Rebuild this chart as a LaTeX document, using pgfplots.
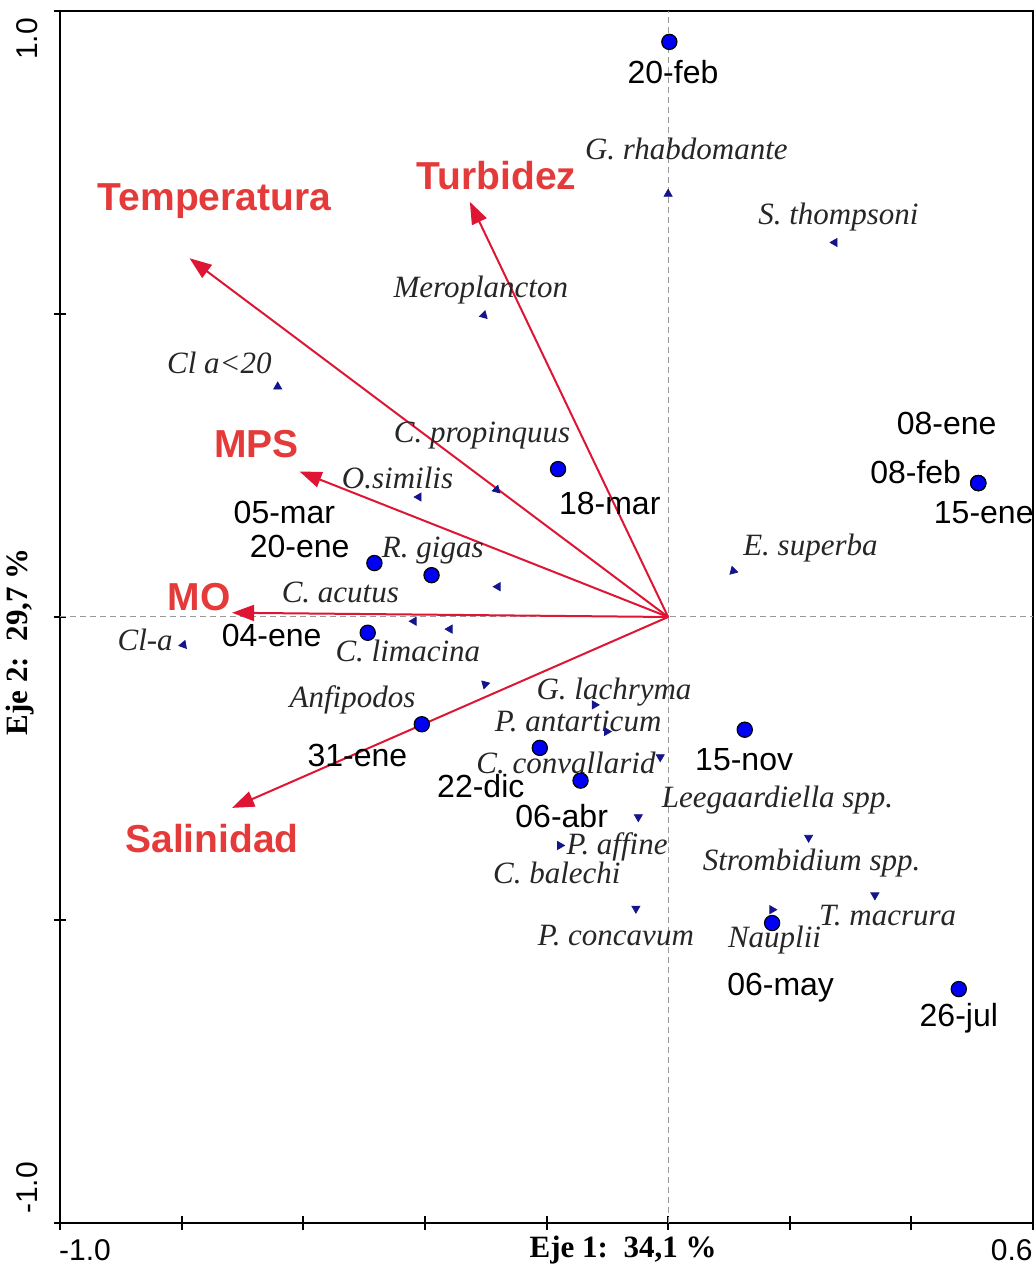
\documentclass[border=0pt]{standalone}
\usepackage{pgfplots}
\pgfplotsset{compat=1.18}
\usetikzlibrary{arrows.meta}
\usepackage{fontspec}
\setmainfont{Liberation Sans}
\newfontfamily\timesfont{Liberation Serif}
\definecolor{arrred}{RGB}{222,22,52}
\definecolor{txtred}{RGB}{228,58,58}
\definecolor{navyb}{RGB}{20,20,140}
\definecolor{dotblue}{RGB}{0,0,245}

\newcommand{\samp}[3]{\node[font=\fontsize{16}{19}\selectfont, inner sep=0pt, anchor=center] at (axis cs:#1,#2) {#3};}
\newcommand{\spl}[3]{\node[font=\timesfont\itshape\fontsize{15.5}{18}\selectfont, text=black!85, inner sep=0pt, anchor=center] at (axis cs:#1,#2) {#3};}
\newcommand{\envl}[3]{\node[font=\bfseries\fontsize{19.5}{22}\selectfont, text=txtred, inner sep=0pt, anchor=center] at (axis cs:#1,#2) {#3};}
\newcommand{\envarrow}[2]{\addplot[arrred, line width=1pt, -{Triangle[length=11pt,width=8pt]}] coordinates {(0,0) (#1,#2)};}
\newcommand{\tri}[3]{\addplot[only marks, mark=triangle*, mark size=2.3pt, color=navyb, mark options={rotate=#3}] coordinates {(#1,#2)};}

\begin{document}
\begin{tikzpicture}
\begin{axis}[
  scale only axis,
  width=486.5pt, height=606pt,
  xmin=-1, xmax=0.6, ymin=-1, ymax=1,
  clip=false,
  axis line style={line width=1pt, black},
  xtick={-1,-0.8,-0.6,-0.4,-0.2,0,0.2,0.4,0.6},
  ytick={-1,-0.5,0,0.5,1},
  xticklabels={}, yticklabels={},
  xtick pos=bottom, ytick pos=left,
  tick align=center,
  major tick length=6.5pt,
  tick style={line width=1pt, black},
]
% zero lines
\addplot[gray!80, line width=0.5pt, dash pattern=on 3pt off 2pt] coordinates {(-1,0) (0.6,0)};
\addplot[gray!80, line width=0.5pt, dash pattern=on 3pt off 2pt] coordinates {(0,-1) (0,1)};

% environmental arrows
\envarrow{-0.326}{0.685}
\envarrow{-0.787}{0.592}
\envarrow{-0.606}{0.240}
\envarrow{-0.717}{0.007}
\envarrow{-0.717}{-0.315}

% samples
\addplot[only marks, mark=*, mark size=3.8pt, mark options={fill=dotblue, draw=black, line width=0.6pt}] coordinates {
(0.002,0.949) (-0.181,0.244) (0.510,0.221) (0.510,0.221) (0.510,0.221)
(-0.483,0.089) (-0.389,0.069) (-0.494,-0.026) (-0.405,-0.177)
(-0.211,-0.216) (-0.144,-0.270) (0.126,-0.186) (0.171,-0.505) (0.478,-0.614)
};

% species
\tri{0.000}{0.698}{0}
\tri{0.274}{0.618}{90}
\tri{-0.303}{0.498}{-135}
\tri{-0.642}{0.380}{-120}
\tri{-0.410}{0.198}{-150}
\tri{-0.282}{0.210}{-135}
\tri{-0.280}{0.050}{90}
\tri{-0.418}{-0.007}{90}
\tri{-0.359}{-0.020}{90}
\tri{-0.797}{-0.046}{100}
\tri{-0.301}{-0.111}{45}
\tri{-0.121}{-0.145}{-90}
\tri{-0.101}{-0.189}{150}
\tri{-0.013}{-0.231}{180}
\tri{-0.049}{-0.330}{180}
\tri{-0.178}{-0.377}{-90}
\tri{-0.053}{-0.481}{180}
\tri{0.231}{-0.364}{60}
\tri{0.340}{-0.459}{60}
\tri{0.171}{-0.483}{30}
\tri{0.107}{0.076}{135}

% env labels
\envl{-0.282}{0.728}{Turbidez}
\envl{-0.746}{0.686}{Temperatura}
\envl{-0.677}{0.285}{MPS}
\envl{-0.771}{0.033}{MO}
\envl{-0.750}{-0.365}{Salinidad}

% sample labels
\samp{0.008}{0.899}{20-feb}
\samp{-0.096}{0.188}{18-mar}
\samp{0.458}{0.320}{08-ene}
\samp{0.407}{0.239}{08-feb}
\samp{0.519}{0.173}{15-ene}
\samp{-0.631}{0.173}{05-mar}
\samp{-0.606}{0.116}{20-ene}
\samp{-0.652}{-0.031}{04-ene}
\samp{-0.511}{-0.228}{31-ene}
\samp{-0.308}{-0.279}{22-dic}
\samp{-0.175}{-0.328}{06-abr}
\samp{0.125}{-0.236}{15-nov}
\samp{0.185}{-0.612}{06-may}
\samp{0.478}{-0.662}{26-jul}

% species labels
\spl{0.030}{0.772}{G. rhabdomante}
\spl{0.280}{0.660}{S. thompsoni}
\spl{-0.308}{0.540}{Meroplancton}
\spl{-0.738}{0.419}{Cl a<20}
\spl{-0.306}{0.299}{C. propinquus}
\spl{-0.445}{0.229}{O.similis}
\spl{-0.387}{0.109}{R. gigas}
\spl{-0.539}{0.040}{C. acutus}
\spl{-0.860}{-0.038}{Cl-a}
\spl{-0.428}{-0.056}{C. limacina}
\spl{-0.519}{-0.137}{Anfipodos}
\spl{-0.089}{-0.124}{G. lachryma}
\spl{-0.148}{-0.173}{P. antarticum}
\spl{-0.168}{-0.241}{C. convallarid}
\spl{-0.084}{-0.380}{P. affine}
\spl{-0.183}{-0.422}{C. balechi}
\spl{-0.086}{-0.525}{P. concavum}
\spl{0.180}{-0.302}{Leegaardiella spp.}
\spl{0.236}{-0.406}{Strombidium spp.}
\spl{0.361}{-0.492}{T. macrura}
\spl{0.175}{-0.533}{Nauplii}
\spl{0.234}{0.114}{E. superba}

% tick labels and axis titles
\node[font=\fontsize{15}{18}\selectfont, rotate=90, inner sep=0pt] at (axis cs:-1.054,0.954) {1.0};
\node[font=\fontsize{15}{18}\selectfont, rotate=90, inner sep=0pt] at (axis cs:-1.054,-0.942) {-1.0};
\node[font=\fontsize{15}{18}\selectfont, inner sep=0pt] at (axis cs:-0.959,-1.045) {-1.0};
\node[font=\fontsize{15}{18}\selectfont, inner sep=0pt, anchor=east] at (axis cs:0.600,-1.045) {0.6};
\node[font=\timesfont\bfseries\fontsize{15.5}{18}\selectfont, inner sep=0pt] at (axis cs:-0.074,-1.045) {Eje\ 1:\ \ 34,1 \%};
\node[font=\timesfont\bfseries\fontsize{15.5}{18}\selectfont, inner sep=0pt, rotate=90] at (axis cs:-1.066,-0.041) {Eje\ 2:\ \ 29,7 \%};
\end{axis}
\pgfresetboundingbox
\path[use as bounding box] ([shift={(-30pt,-26pt)}]current axis.south west) rectangle ([shift={(1pt,5.5pt)}]current axis.north east);
\end{tikzpicture}
\end{document}
